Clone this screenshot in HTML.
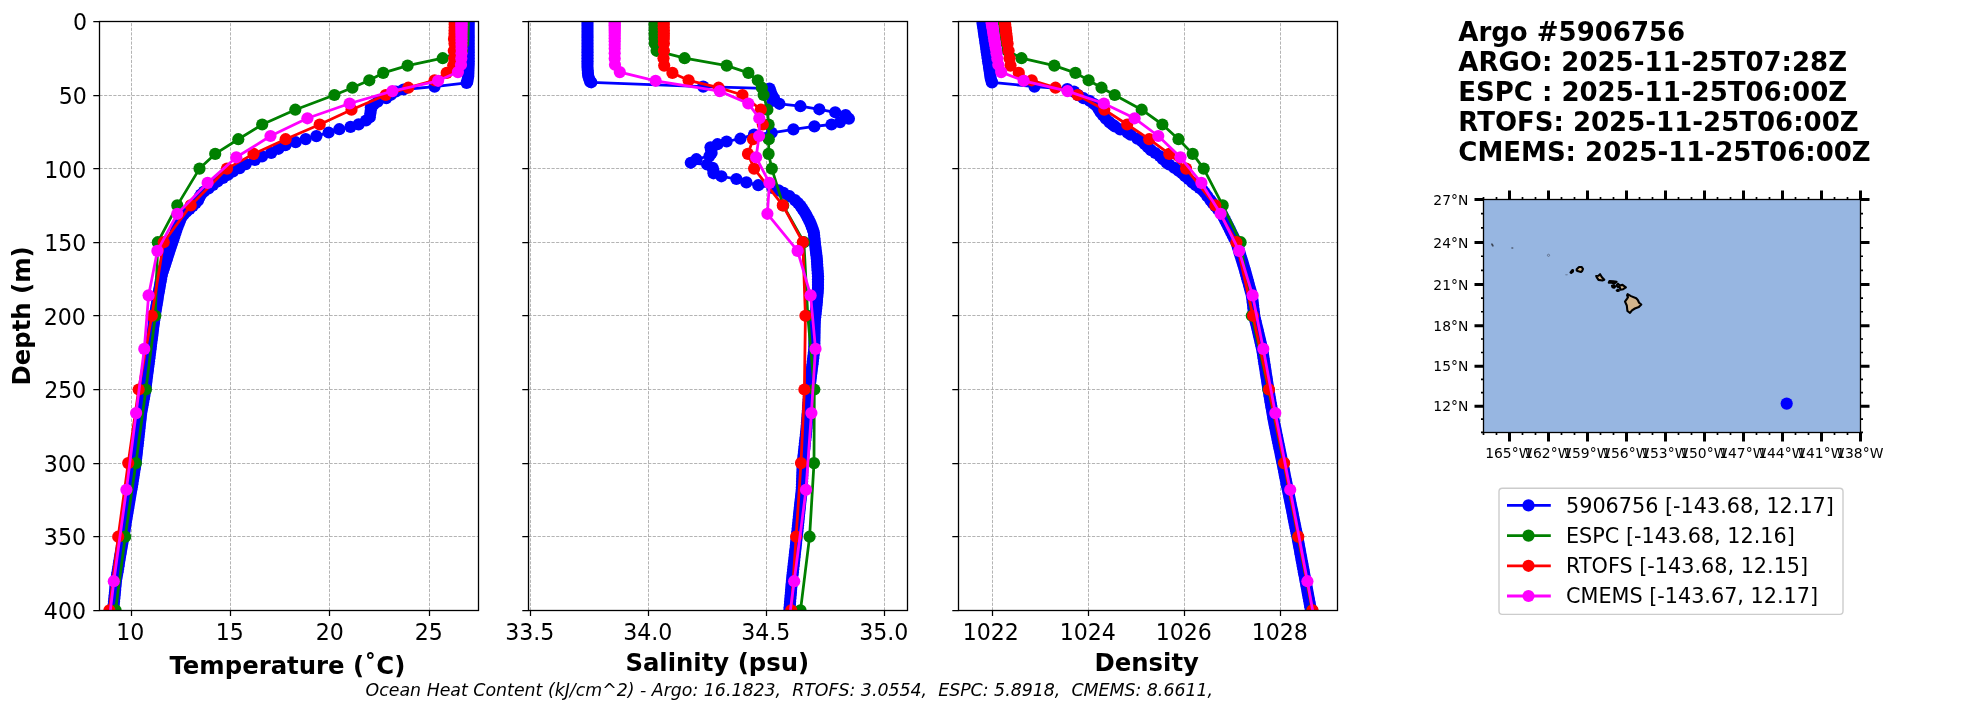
<!DOCTYPE html>
<html lang="en"><head><meta charset="utf-8"><title>Argo #5906756 profile comparison</title>
<style>html,body{margin:0;padding:0;background:#fff;}svg{display:block;will-change:transform;}text{font-family:"DejaVu Sans","Liberation Sans",sans-serif;fill:#000;}.tk{font-size:22.1px;}.ax{font-size:24.35px;font-weight:bold;}.tt{font-size:26.0px;font-weight:bold;}.mp{font-size:13.89px;}.lg{font-size:20.75px;}</style></head><body>
<svg width="1967" height="712" viewBox="0 0 1967 712">
<rect width="1967" height="712" fill="#fff"/>
<defs>
<clipPath id="c0"><rect x="99.5" y="21.5" width="379.0" height="589.0"/></clipPath>
<clipPath id="c1"><rect x="528.5" y="21.5" width="379.0" height="589.0"/></clipPath>
<clipPath id="c2"><rect x="958.5" y="21.5" width="379.0" height="589.0"/></clipPath>
</defs>
<path d="M131.5 610.5V21.5M230.5 610.5V21.5M329.5 610.5V21.5M429.5 610.5V21.5M99.5 95.5H478.5M99.5 168.5H478.5M99.5 242.5H478.5M99.5 315.5H478.5M99.5 389.5H478.5M99.5 463.5H478.5M99.5 536.5H478.5" stroke="#a6a6a6" stroke-width="0.85" stroke-dasharray="3.2 1.4" fill="none"/>
<g clip-path="url(#c0)">
<path d="M468.7 22.9L468.7 25.8L468.7 28.8L468.7 31.7L468.7 34.7L468.7 37.6L468.7 40.5L468.7 43.5L468.7 46.4L468.7 49.4L468.7 52.3L468.7 55.3L468.7 58.2L468.7 61.2L468.7 64.1L468.6 67.0L468.5 70.0L468.4 72.9L468.3 75.9L467.8 78.8L467.3 81.8L466.6 82.9L434.6 86.6L403.5 89.5L395.9 91.5L391.0 94.8L386.3 98.1L377.6 101.7L373.5 104.8L370.8 107.6L370.8 110.2L370.3 113.5L369.8 117.3L366.0 120.5L358.6 124.4L350.5 126.9L339.3 129.2L328.6 132.5L316.4 136.1L305.7 139.1L295.6 142.2L285.4 145.2L278.5 148.8L271.2 152.9L262.0 156.4L254.9 160.0L245.8 164.1L239.7 168.1L233.0 171.5L228.0 174.8L223.0 178.0L217.5 181.5L213.0 185.0L208.5 188.5L204.0 191.5L201.0 194.5L199.3 197.5L198.0 200.5L195.8 203.0L192.8 205.9L189.6 208.9L186.4 211.8L183.5 214.7L181.2 217.7L180.0 220.6L178.8 223.5L177.6 226.4L176.5 229.4L175.6 232.3L174.6 235.2L173.7 238.2L172.8 241.1L171.8 244.0L170.8 247.0L169.8 249.9L168.8 252.8L167.9 255.7L167.0 258.7L166.0 261.6L165.1 264.5L164.1 267.5L163.1 270.4L162.1 273.3L161.5 276.3L161.0 279.2L160.5 282.1L160.0 285.0L159.5 288.0L159.0 290.9L158.4 293.8L157.9 296.8L157.5 299.7L157.0 302.6L156.5 305.6L156.0 308.5L155.5 311.4L155.0 314.3L154.6 317.3L154.2 320.2L153.9 323.1L153.5 326.1L153.1 329.0L152.7 331.9L152.4 334.9L152.0 337.8L151.6 340.7L151.2 343.6L150.9 346.6L150.5 349.5L150.1 352.4L149.7 355.4L149.4 358.3L149.0 361.2L148.6 364.2L148.2 367.1L147.9 370.0L147.5 372.9L147.1 375.9L146.7 378.8L146.4 381.7L146.0 384.7L145.6 387.6L145.2 390.5L144.7 393.5L144.2 396.4L143.7 399.3L143.1 402.2L142.6 405.2L142.1 408.1L141.6 411.0L141.1 414.0L140.8 416.9L140.5 419.8L140.1 422.8L139.8 425.7L139.5 428.6L139.2 431.5L138.8 434.5L138.5 437.4L138.2 440.3L137.9 443.3L137.5 446.2L137.2 449.1L136.9 452.1L136.6 455.0L136.2 457.9L135.9 460.8L135.6 463.8L135.1 466.7L134.6 469.6L134.1 472.6L133.7 475.5L133.2 478.4L132.7 481.4L132.3 484.3L131.8 487.2L131.3 490.1L130.8 493.1L130.3 496.0L129.8 498.9L129.3 501.9L128.8 504.8L128.3 507.7L127.8 510.7L127.3 513.6L126.8 516.5L126.3 519.4L125.8 522.4L125.3 525.3L124.9 528.2L124.4 531.2L123.9 534.1L123.4 537.0L122.9 540.0L122.4 542.9L121.9 545.8L121.4 548.7L120.9 551.7L120.4 554.6L119.9 557.5L119.4 560.5L118.9 563.4L118.5 566.3L118.0 569.2L117.5 572.2L117.0 575.1L116.5 578.0L116.0 581.0L115.7 583.9L115.4 586.8L115.2 589.8L114.9 592.7L114.6 595.6L114.3 598.5L114.0 601.5L113.7 604.4L113.5 607.3L113.2 610.3L112.8 613.2L112.5 616.1L112.2 619.1L111.8 622.0L111.5 624.9L111.2 627.8L110.8 630.8" fill="none" stroke="#0000ff" stroke-width="2.78" stroke-linejoin="round"/>
<g fill="#0000ff"><circle cx="468.7" cy="22.9" r="6.1"/><circle cx="468.7" cy="25.8" r="6.1"/><circle cx="468.7" cy="28.8" r="6.1"/><circle cx="468.7" cy="31.7" r="6.1"/><circle cx="468.7" cy="34.7" r="6.1"/><circle cx="468.7" cy="37.6" r="6.1"/><circle cx="468.7" cy="40.5" r="6.1"/><circle cx="468.7" cy="43.5" r="6.1"/><circle cx="468.7" cy="46.4" r="6.1"/><circle cx="468.7" cy="49.4" r="6.1"/><circle cx="468.7" cy="52.3" r="6.1"/><circle cx="468.7" cy="55.3" r="6.1"/><circle cx="468.7" cy="58.2" r="6.1"/><circle cx="468.7" cy="61.2" r="6.1"/><circle cx="468.7" cy="64.1" r="6.1"/><circle cx="468.6" cy="67.0" r="6.1"/><circle cx="468.5" cy="70.0" r="6.1"/><circle cx="468.4" cy="72.9" r="6.1"/><circle cx="468.3" cy="75.9" r="6.1"/><circle cx="467.8" cy="78.8" r="6.1"/><circle cx="467.3" cy="81.8" r="6.1"/><circle cx="466.6" cy="82.9" r="6.1"/><circle cx="434.6" cy="86.6" r="6.1"/><circle cx="403.5" cy="89.5" r="6.1"/><circle cx="395.9" cy="91.5" r="6.1"/><circle cx="391.0" cy="94.8" r="6.1"/><circle cx="386.3" cy="98.1" r="6.1"/><circle cx="377.6" cy="101.7" r="6.1"/><circle cx="373.5" cy="104.8" r="6.1"/><circle cx="370.8" cy="107.6" r="6.1"/><circle cx="370.8" cy="110.2" r="6.1"/><circle cx="370.3" cy="113.5" r="6.1"/><circle cx="369.8" cy="117.3" r="6.1"/><circle cx="366.0" cy="120.5" r="6.1"/><circle cx="358.6" cy="124.4" r="6.1"/><circle cx="350.5" cy="126.9" r="6.1"/><circle cx="339.3" cy="129.2" r="6.1"/><circle cx="328.6" cy="132.5" r="6.1"/><circle cx="316.4" cy="136.1" r="6.1"/><circle cx="305.7" cy="139.1" r="6.1"/><circle cx="295.6" cy="142.2" r="6.1"/><circle cx="285.4" cy="145.2" r="6.1"/><circle cx="278.5" cy="148.8" r="6.1"/><circle cx="271.2" cy="152.9" r="6.1"/><circle cx="262.0" cy="156.4" r="6.1"/><circle cx="254.9" cy="160.0" r="6.1"/><circle cx="245.8" cy="164.1" r="6.1"/><circle cx="239.7" cy="168.1" r="6.1"/><circle cx="233.0" cy="171.5" r="6.1"/><circle cx="228.0" cy="174.8" r="6.1"/><circle cx="223.0" cy="178.0" r="6.1"/><circle cx="217.5" cy="181.5" r="6.1"/><circle cx="213.0" cy="185.0" r="6.1"/><circle cx="208.5" cy="188.5" r="6.1"/><circle cx="204.0" cy="191.5" r="6.1"/><circle cx="201.0" cy="194.5" r="6.1"/><circle cx="199.3" cy="197.5" r="6.1"/><circle cx="198.0" cy="200.5" r="6.1"/><circle cx="195.8" cy="203.0" r="6.1"/><circle cx="192.8" cy="205.9" r="6.1"/><circle cx="189.6" cy="208.9" r="6.1"/><circle cx="186.4" cy="211.8" r="6.1"/><circle cx="183.5" cy="214.7" r="6.1"/><circle cx="181.2" cy="217.7" r="6.1"/><circle cx="180.0" cy="220.6" r="6.1"/><circle cx="178.8" cy="223.5" r="6.1"/><circle cx="177.6" cy="226.4" r="6.1"/><circle cx="176.5" cy="229.4" r="6.1"/><circle cx="175.6" cy="232.3" r="6.1"/><circle cx="174.6" cy="235.2" r="6.1"/><circle cx="173.7" cy="238.2" r="6.1"/><circle cx="172.8" cy="241.1" r="6.1"/><circle cx="171.8" cy="244.0" r="6.1"/><circle cx="170.8" cy="247.0" r="6.1"/><circle cx="169.8" cy="249.9" r="6.1"/><circle cx="168.8" cy="252.8" r="6.1"/><circle cx="167.9" cy="255.7" r="6.1"/><circle cx="167.0" cy="258.7" r="6.1"/><circle cx="166.0" cy="261.6" r="6.1"/><circle cx="165.1" cy="264.5" r="6.1"/><circle cx="164.1" cy="267.5" r="6.1"/><circle cx="163.1" cy="270.4" r="6.1"/><circle cx="162.1" cy="273.3" r="6.1"/><circle cx="161.5" cy="276.3" r="6.1"/><circle cx="161.0" cy="279.2" r="6.1"/><circle cx="160.5" cy="282.1" r="6.1"/><circle cx="160.0" cy="285.0" r="6.1"/><circle cx="159.5" cy="288.0" r="6.1"/><circle cx="159.0" cy="290.9" r="6.1"/><circle cx="158.4" cy="293.8" r="6.1"/><circle cx="157.9" cy="296.8" r="6.1"/><circle cx="157.5" cy="299.7" r="6.1"/><circle cx="157.0" cy="302.6" r="6.1"/><circle cx="156.5" cy="305.6" r="6.1"/><circle cx="156.0" cy="308.5" r="6.1"/><circle cx="155.5" cy="311.4" r="6.1"/><circle cx="155.0" cy="314.3" r="6.1"/><circle cx="154.6" cy="317.3" r="6.1"/><circle cx="154.2" cy="320.2" r="6.1"/><circle cx="153.9" cy="323.1" r="6.1"/><circle cx="153.5" cy="326.1" r="6.1"/><circle cx="153.1" cy="329.0" r="6.1"/><circle cx="152.7" cy="331.9" r="6.1"/><circle cx="152.4" cy="334.9" r="6.1"/><circle cx="152.0" cy="337.8" r="6.1"/><circle cx="151.6" cy="340.7" r="6.1"/><circle cx="151.2" cy="343.6" r="6.1"/><circle cx="150.9" cy="346.6" r="6.1"/><circle cx="150.5" cy="349.5" r="6.1"/><circle cx="150.1" cy="352.4" r="6.1"/><circle cx="149.7" cy="355.4" r="6.1"/><circle cx="149.4" cy="358.3" r="6.1"/><circle cx="149.0" cy="361.2" r="6.1"/><circle cx="148.6" cy="364.2" r="6.1"/><circle cx="148.2" cy="367.1" r="6.1"/><circle cx="147.9" cy="370.0" r="6.1"/><circle cx="147.5" cy="372.9" r="6.1"/><circle cx="147.1" cy="375.9" r="6.1"/><circle cx="146.7" cy="378.8" r="6.1"/><circle cx="146.4" cy="381.7" r="6.1"/><circle cx="146.0" cy="384.7" r="6.1"/><circle cx="145.6" cy="387.6" r="6.1"/><circle cx="145.2" cy="390.5" r="6.1"/><circle cx="144.7" cy="393.5" r="6.1"/><circle cx="144.2" cy="396.4" r="6.1"/><circle cx="143.7" cy="399.3" r="6.1"/><circle cx="143.1" cy="402.2" r="6.1"/><circle cx="142.6" cy="405.2" r="6.1"/><circle cx="142.1" cy="408.1" r="6.1"/><circle cx="141.6" cy="411.0" r="6.1"/><circle cx="141.1" cy="414.0" r="6.1"/><circle cx="140.8" cy="416.9" r="6.1"/><circle cx="140.5" cy="419.8" r="6.1"/><circle cx="140.1" cy="422.8" r="6.1"/><circle cx="139.8" cy="425.7" r="6.1"/><circle cx="139.5" cy="428.6" r="6.1"/><circle cx="139.2" cy="431.5" r="6.1"/><circle cx="138.8" cy="434.5" r="6.1"/><circle cx="138.5" cy="437.4" r="6.1"/><circle cx="138.2" cy="440.3" r="6.1"/><circle cx="137.9" cy="443.3" r="6.1"/><circle cx="137.5" cy="446.2" r="6.1"/><circle cx="137.2" cy="449.1" r="6.1"/><circle cx="136.9" cy="452.1" r="6.1"/><circle cx="136.6" cy="455.0" r="6.1"/><circle cx="136.2" cy="457.9" r="6.1"/><circle cx="135.9" cy="460.8" r="6.1"/><circle cx="135.6" cy="463.8" r="6.1"/><circle cx="135.1" cy="466.7" r="6.1"/><circle cx="134.6" cy="469.6" r="6.1"/><circle cx="134.1" cy="472.6" r="6.1"/><circle cx="133.7" cy="475.5" r="6.1"/><circle cx="133.2" cy="478.4" r="6.1"/><circle cx="132.7" cy="481.4" r="6.1"/><circle cx="132.3" cy="484.3" r="6.1"/><circle cx="131.8" cy="487.2" r="6.1"/><circle cx="131.3" cy="490.1" r="6.1"/><circle cx="130.8" cy="493.1" r="6.1"/><circle cx="130.3" cy="496.0" r="6.1"/><circle cx="129.8" cy="498.9" r="6.1"/><circle cx="129.3" cy="501.9" r="6.1"/><circle cx="128.8" cy="504.8" r="6.1"/><circle cx="128.3" cy="507.7" r="6.1"/><circle cx="127.8" cy="510.7" r="6.1"/><circle cx="127.3" cy="513.6" r="6.1"/><circle cx="126.8" cy="516.5" r="6.1"/><circle cx="126.3" cy="519.4" r="6.1"/><circle cx="125.8" cy="522.4" r="6.1"/><circle cx="125.3" cy="525.3" r="6.1"/><circle cx="124.9" cy="528.2" r="6.1"/><circle cx="124.4" cy="531.2" r="6.1"/><circle cx="123.9" cy="534.1" r="6.1"/><circle cx="123.4" cy="537.0" r="6.1"/><circle cx="122.9" cy="540.0" r="6.1"/><circle cx="122.4" cy="542.9" r="6.1"/><circle cx="121.9" cy="545.8" r="6.1"/><circle cx="121.4" cy="548.7" r="6.1"/><circle cx="120.9" cy="551.7" r="6.1"/><circle cx="120.4" cy="554.6" r="6.1"/><circle cx="119.9" cy="557.5" r="6.1"/><circle cx="119.4" cy="560.5" r="6.1"/><circle cx="118.9" cy="563.4" r="6.1"/><circle cx="118.5" cy="566.3" r="6.1"/><circle cx="118.0" cy="569.2" r="6.1"/><circle cx="117.5" cy="572.2" r="6.1"/><circle cx="117.0" cy="575.1" r="6.1"/><circle cx="116.5" cy="578.0" r="6.1"/><circle cx="116.0" cy="581.0" r="6.1"/><circle cx="115.7" cy="583.9" r="6.1"/><circle cx="115.4" cy="586.8" r="6.1"/><circle cx="115.2" cy="589.8" r="6.1"/><circle cx="114.9" cy="592.7" r="6.1"/><circle cx="114.6" cy="595.6" r="6.1"/><circle cx="114.3" cy="598.5" r="6.1"/><circle cx="114.0" cy="601.5" r="6.1"/><circle cx="113.7" cy="604.4" r="6.1"/><circle cx="113.5" cy="607.3" r="6.1"/><circle cx="113.2" cy="610.3" r="6.1"/><circle cx="112.8" cy="613.2" r="6.1"/><circle cx="112.5" cy="616.1" r="6.1"/></g>
<path d="M463.6 21.4L463.6 24.3L463.5 27.3L463.5 30.2L463.5 33.2L463.4 36.1L463.4 39.1L463.0 43.5L462.0 50.8L442.7 58.2L407.6 65.6L383.2 72.9L369.3 80.3L352.4 87.7L334.4 95.0L295.3 109.7L262.2 124.5L238.3 139.2L215.2 153.9L199.5 168.6L177.3 205.4L157.8 242.2L155.3 315.8L145.9 389.5L135.9 463.1L125.2 536.7L115.6 610.3" fill="none" stroke="#008000" stroke-width="2.78" stroke-linejoin="round"/>
<g fill="#008000"><circle cx="463.6" cy="21.4" r="6.1"/><circle cx="463.6" cy="24.3" r="6.1"/><circle cx="463.5" cy="27.3" r="6.1"/><circle cx="463.5" cy="30.2" r="6.1"/><circle cx="463.5" cy="33.2" r="6.1"/><circle cx="463.4" cy="36.1" r="6.1"/><circle cx="463.4" cy="39.1" r="6.1"/><circle cx="463.0" cy="43.5" r="6.1"/><circle cx="462.0" cy="50.8" r="6.1"/><circle cx="442.7" cy="58.2" r="6.1"/><circle cx="407.6" cy="65.6" r="6.1"/><circle cx="383.2" cy="72.9" r="6.1"/><circle cx="369.3" cy="80.3" r="6.1"/><circle cx="352.4" cy="87.7" r="6.1"/><circle cx="334.4" cy="95.0" r="6.1"/><circle cx="295.3" cy="109.7" r="6.1"/><circle cx="262.2" cy="124.5" r="6.1"/><circle cx="238.3" cy="139.2" r="6.1"/><circle cx="215.2" cy="153.9" r="6.1"/><circle cx="199.5" cy="168.6" r="6.1"/><circle cx="177.3" cy="205.4" r="6.1"/><circle cx="157.8" cy="242.2" r="6.1"/><circle cx="155.3" cy="315.8" r="6.1"/><circle cx="145.9" cy="389.5" r="6.1"/><circle cx="135.9" cy="463.1" r="6.1"/><circle cx="125.2" cy="536.7" r="6.1"/><circle cx="115.6" cy="610.3" r="6.1"/></g>
<path d="M454.7 21.4L454.7 24.3L454.7 27.3L454.6 30.2L454.6 33.2L454.6 36.1L454.0 39.1L454.5 43.5L453.8 50.8L454.2 58.2L453.2 65.6L446.7 72.9L434.6 80.3L408.3 87.7L385.7 95.0L351.5 109.7L319.7 124.5L285.6 139.2L253.5 153.9L227.0 168.6L190.7 205.4L163.7 242.2L151.8 315.8L138.7 389.5L128.2 463.1L118.2 536.7L109.4 610.3" fill="none" stroke="#ff0000" stroke-width="2.78" stroke-linejoin="round"/>
<g fill="#ff0000"><circle cx="454.7" cy="21.4" r="6.1"/><circle cx="454.7" cy="24.3" r="6.1"/><circle cx="454.7" cy="27.3" r="6.1"/><circle cx="454.6" cy="30.2" r="6.1"/><circle cx="454.6" cy="33.2" r="6.1"/><circle cx="454.6" cy="36.1" r="6.1"/><circle cx="454.0" cy="39.1" r="6.1"/><circle cx="454.5" cy="43.5" r="6.1"/><circle cx="453.8" cy="50.8" r="6.1"/><circle cx="454.2" cy="58.2" r="6.1"/><circle cx="453.2" cy="65.6" r="6.1"/><circle cx="446.7" cy="72.9" r="6.1"/><circle cx="434.6" cy="80.3" r="6.1"/><circle cx="408.3" cy="87.7" r="6.1"/><circle cx="385.7" cy="95.0" r="6.1"/><circle cx="351.5" cy="109.7" r="6.1"/><circle cx="319.7" cy="124.5" r="6.1"/><circle cx="285.6" cy="139.2" r="6.1"/><circle cx="253.5" cy="153.9" r="6.1"/><circle cx="227.0" cy="168.6" r="6.1"/><circle cx="190.7" cy="205.4" r="6.1"/><circle cx="163.7" cy="242.2" r="6.1"/><circle cx="151.8" cy="315.8" r="6.1"/><circle cx="138.7" cy="389.5" r="6.1"/><circle cx="128.2" cy="463.1" r="6.1"/><circle cx="118.2" cy="536.7" r="6.1"/><circle cx="109.4" cy="610.3" r="6.1"/></g>
<path d="M461.5 22.1L461.5 23.7L461.5 25.3L461.5 27.0L461.5 28.9L461.5 30.9L461.5 33.1L461.5 35.5L461.5 38.2L461.5 41.2L461.5 44.7L461.5 48.6L461.5 53.2L461.3 58.5L461.0 64.8L457.9 72.1L438.1 80.8L392.4 91.1L349.6 103.5L307.4 118.3L270.5 136.0L236.3 157.3L207.6 182.9L177.3 213.8L157.4 250.9L148.6 295.4L144.3 348.9L136.1 413.1L126.4 489.8L113.8 581.2L101.0 689.7" fill="none" stroke="#ff00ff" stroke-width="2.78" stroke-linejoin="round"/>
<g fill="#ff00ff"><circle cx="461.5" cy="22.1" r="6.1"/><circle cx="461.5" cy="23.7" r="6.1"/><circle cx="461.5" cy="25.3" r="6.1"/><circle cx="461.5" cy="27.0" r="6.1"/><circle cx="461.5" cy="28.9" r="6.1"/><circle cx="461.5" cy="30.9" r="6.1"/><circle cx="461.5" cy="33.1" r="6.1"/><circle cx="461.5" cy="35.5" r="6.1"/><circle cx="461.5" cy="38.2" r="6.1"/><circle cx="461.5" cy="41.2" r="6.1"/><circle cx="461.5" cy="44.7" r="6.1"/><circle cx="461.5" cy="48.6" r="6.1"/><circle cx="461.5" cy="53.2" r="6.1"/><circle cx="461.3" cy="58.5" r="6.1"/><circle cx="461.0" cy="64.8" r="6.1"/><circle cx="457.9" cy="72.1" r="6.1"/><circle cx="438.1" cy="80.8" r="6.1"/><circle cx="392.4" cy="91.1" r="6.1"/><circle cx="349.6" cy="103.5" r="6.1"/><circle cx="307.4" cy="118.3" r="6.1"/><circle cx="270.5" cy="136.0" r="6.1"/><circle cx="236.3" cy="157.3" r="6.1"/><circle cx="207.6" cy="182.9" r="6.1"/><circle cx="177.3" cy="213.8" r="6.1"/><circle cx="157.4" cy="250.9" r="6.1"/><circle cx="148.6" cy="295.4" r="6.1"/><circle cx="144.3" cy="348.9" r="6.1"/><circle cx="136.1" cy="413.1" r="6.1"/><circle cx="126.4" cy="489.8" r="6.1"/><circle cx="113.8" cy="581.2" r="6.1"/></g>
</g>
<rect x="99.5" y="21.5" width="379.0" height="589.0" fill="none" stroke="#000" stroke-width="1.3"/>
<path d="M131.5 610.5v5.4M230.5 610.5v5.4M329.5 610.5v5.4M429.5 610.5v5.4M99.5 21.5h-6.2M99.5 95.5h-6.2M99.5 168.5h-6.2M99.5 242.5h-6.2M99.5 315.5h-6.2M99.5 389.5h-6.2M99.5 463.5h-6.2M99.5 536.5h-6.2M99.5 610.5h-6.2" stroke="#000" stroke-width="1.25"/>
<text class="tk" x="130.3" y="639.6" text-anchor="middle">10</text>
<text class="tk" x="229.8" y="639.6" text-anchor="middle">15</text>
<text class="tk" x="329.8" y="639.6" text-anchor="middle">20</text>
<text class="tk" x="428.8" y="639.6" text-anchor="middle">25</text>
<path d="M530.5 610.5V21.5M648.5 610.5V21.5M766.5 610.5V21.5M884.5 610.5V21.5M528.5 95.5H907.5M528.5 168.5H907.5M528.5 242.5H907.5M528.5 315.5H907.5M528.5 389.5H907.5M528.5 463.5H907.5M528.5 536.5H907.5" stroke="#a6a6a6" stroke-width="0.85" stroke-dasharray="3.2 1.4" fill="none"/>
<g clip-path="url(#c1)">
<path d="M587.5 22.9L587.5 25.8L587.5 28.8L587.5 31.7L587.5 34.7L587.5 37.6L587.5 40.5L587.5 43.5L587.5 46.4L587.5 49.4L587.5 52.3L587.5 55.3L587.5 58.2L587.5 61.2L587.5 64.1L587.5 67.0L587.7 70.0L587.9 72.9L588.2 75.9L589.1 78.8L590.1 81.8L591.3 82.3L703.2 86.6L769.5 88.5L770.6 91.6L772.0 95.1L774.0 98.2L772.5 100.8L779.4 103.8L800.4 106.2L819.3 109.3L835.2 112.3L845.6 115.1L848.9 118.7L840.1 122.1L831.5 124.5L814.4 126.4L793.4 129.4L771.7 132.8L754.0 134.6L740.4 138.7L726.6 141.5L717.5 144.2L710.5 147.3L711.2 150.2L711.6 153.0L709.5 156.0L696.4 159.2L690.8 162.8L707.1 164.5L712.6 167.8L713.4 170.6L713.5 173.3L721.4 176.3L736.4 179.0L746.4 182.4L758.3 185.2L772.4 187.9L778.5 190.4L783.4 192.8L789.5 196.2L794.9 200.1L798.0 203.0L800.5 205.9L802.5 208.9L804.4 211.8L806.2 214.7L807.7 217.7L809.2 220.6L810.6 223.5L811.7 226.4L812.8 229.4L813.8 232.3L814.1 235.2L814.4 238.2L814.7 241.1L815.0 244.0L815.4 247.0L815.7 249.9L816.1 252.8L816.5 255.7L816.8 258.7L817.0 261.6L817.2 264.5L817.4 267.5L817.6 270.4L817.8 273.3L818.0 276.3L818.0 279.2L818.0 282.1L818.0 285.0L818.0 288.0L817.8 290.9L817.6 293.8L817.3 296.8L817.0 299.7L816.8 302.6L816.5 305.6L816.2 308.5L815.8 311.4L815.5 314.3L815.2 317.3L814.8 320.2L814.8 323.1L814.7 326.1L814.6 329.0L814.6 331.9L814.5 334.9L814.5 337.8L814.4 340.7L814.4 343.6L814.3 346.6L814.2 349.5L813.9 352.4L813.5 355.4L813.2 358.3L812.8 361.2L812.5 364.2L812.1 367.1L811.8 370.0L811.4 372.9L811.0 375.9L810.7 378.8L810.3 381.7L810.0 384.7L809.6 387.6L809.3 390.5L809.1 393.5L808.9 396.4L808.7 399.3L808.5 402.2L808.2 405.2L808.0 408.1L807.8 411.0L807.6 414.0L807.4 416.9L807.2 419.8L806.9 422.8L806.7 425.7L806.5 428.6L806.2 431.5L805.9 434.5L805.6 437.4L805.2 440.3L804.9 443.3L804.6 446.2L804.3 449.1L803.9 452.1L803.6 455.0L803.3 457.9L802.9 460.8L802.7 463.8L802.6 466.7L802.5 469.6L802.4 472.6L802.3 475.5L802.2 478.4L802.1 481.4L802.0 484.3L801.9 487.2L801.7 490.1L801.4 493.1L801.1 496.0L800.8 498.9L800.4 501.9L800.1 504.8L799.8 507.7L799.5 510.7L799.2 513.6L798.9 516.5L798.6 519.4L798.3 522.4L798.0 525.3L797.7 528.2L797.4 531.2L797.1 534.1L796.7 537.0L796.4 540.0L796.1 542.9L795.8 545.8L795.5 548.7L795.1 551.7L794.8 554.6L794.5 557.5L794.2 560.5L793.8 563.4L793.5 566.3L793.2 569.2L792.9 572.2L792.5 575.1L792.2 578.0L791.9 581.0L791.6 583.9L791.4 586.8L791.1 589.8L790.9 592.7L790.6 595.6L790.4 598.5L790.1 601.5L789.9 604.4L789.6 607.3L789.4 610.3L789.1 613.2L788.9 616.1L788.6 619.1L788.4 622.0L788.1 624.9L787.9 627.8L787.6 630.8" fill="none" stroke="#0000ff" stroke-width="2.78" stroke-linejoin="round"/>
<g fill="#0000ff"><circle cx="587.5" cy="22.9" r="6.1"/><circle cx="587.5" cy="25.8" r="6.1"/><circle cx="587.5" cy="28.8" r="6.1"/><circle cx="587.5" cy="31.7" r="6.1"/><circle cx="587.5" cy="34.7" r="6.1"/><circle cx="587.5" cy="37.6" r="6.1"/><circle cx="587.5" cy="40.5" r="6.1"/><circle cx="587.5" cy="43.5" r="6.1"/><circle cx="587.5" cy="46.4" r="6.1"/><circle cx="587.5" cy="49.4" r="6.1"/><circle cx="587.5" cy="52.3" r="6.1"/><circle cx="587.5" cy="55.3" r="6.1"/><circle cx="587.5" cy="58.2" r="6.1"/><circle cx="587.5" cy="61.2" r="6.1"/><circle cx="587.5" cy="64.1" r="6.1"/><circle cx="587.5" cy="67.0" r="6.1"/><circle cx="587.7" cy="70.0" r="6.1"/><circle cx="587.9" cy="72.9" r="6.1"/><circle cx="588.2" cy="75.9" r="6.1"/><circle cx="589.1" cy="78.8" r="6.1"/><circle cx="590.1" cy="81.8" r="6.1"/><circle cx="591.3" cy="82.3" r="6.1"/><circle cx="703.2" cy="86.6" r="6.1"/><circle cx="769.5" cy="88.5" r="6.1"/><circle cx="770.6" cy="91.6" r="6.1"/><circle cx="772.0" cy="95.1" r="6.1"/><circle cx="774.0" cy="98.2" r="6.1"/><circle cx="772.5" cy="100.8" r="6.1"/><circle cx="779.4" cy="103.8" r="6.1"/><circle cx="800.4" cy="106.2" r="6.1"/><circle cx="819.3" cy="109.3" r="6.1"/><circle cx="835.2" cy="112.3" r="6.1"/><circle cx="845.6" cy="115.1" r="6.1"/><circle cx="848.9" cy="118.7" r="6.1"/><circle cx="840.1" cy="122.1" r="6.1"/><circle cx="831.5" cy="124.5" r="6.1"/><circle cx="814.4" cy="126.4" r="6.1"/><circle cx="793.4" cy="129.4" r="6.1"/><circle cx="771.7" cy="132.8" r="6.1"/><circle cx="754.0" cy="134.6" r="6.1"/><circle cx="740.4" cy="138.7" r="6.1"/><circle cx="726.6" cy="141.5" r="6.1"/><circle cx="717.5" cy="144.2" r="6.1"/><circle cx="710.5" cy="147.3" r="6.1"/><circle cx="711.2" cy="150.2" r="6.1"/><circle cx="711.6" cy="153.0" r="6.1"/><circle cx="709.5" cy="156.0" r="6.1"/><circle cx="696.4" cy="159.2" r="6.1"/><circle cx="690.8" cy="162.8" r="6.1"/><circle cx="707.1" cy="164.5" r="6.1"/><circle cx="712.6" cy="167.8" r="6.1"/><circle cx="713.4" cy="170.6" r="6.1"/><circle cx="713.5" cy="173.3" r="6.1"/><circle cx="721.4" cy="176.3" r="6.1"/><circle cx="736.4" cy="179.0" r="6.1"/><circle cx="746.4" cy="182.4" r="6.1"/><circle cx="758.3" cy="185.2" r="6.1"/><circle cx="772.4" cy="187.9" r="6.1"/><circle cx="778.5" cy="190.4" r="6.1"/><circle cx="783.4" cy="192.8" r="6.1"/><circle cx="789.5" cy="196.2" r="6.1"/><circle cx="794.9" cy="200.1" r="6.1"/><circle cx="798.0" cy="203.0" r="6.1"/><circle cx="800.5" cy="205.9" r="6.1"/><circle cx="802.5" cy="208.9" r="6.1"/><circle cx="804.4" cy="211.8" r="6.1"/><circle cx="806.2" cy="214.7" r="6.1"/><circle cx="807.7" cy="217.7" r="6.1"/><circle cx="809.2" cy="220.6" r="6.1"/><circle cx="810.6" cy="223.5" r="6.1"/><circle cx="811.7" cy="226.4" r="6.1"/><circle cx="812.8" cy="229.4" r="6.1"/><circle cx="813.8" cy="232.3" r="6.1"/><circle cx="814.1" cy="235.2" r="6.1"/><circle cx="814.4" cy="238.2" r="6.1"/><circle cx="814.7" cy="241.1" r="6.1"/><circle cx="815.0" cy="244.0" r="6.1"/><circle cx="815.4" cy="247.0" r="6.1"/><circle cx="815.7" cy="249.9" r="6.1"/><circle cx="816.1" cy="252.8" r="6.1"/><circle cx="816.5" cy="255.7" r="6.1"/><circle cx="816.8" cy="258.7" r="6.1"/><circle cx="817.0" cy="261.6" r="6.1"/><circle cx="817.2" cy="264.5" r="6.1"/><circle cx="817.4" cy="267.5" r="6.1"/><circle cx="817.6" cy="270.4" r="6.1"/><circle cx="817.8" cy="273.3" r="6.1"/><circle cx="818.0" cy="276.3" r="6.1"/><circle cx="818.0" cy="279.2" r="6.1"/><circle cx="818.0" cy="282.1" r="6.1"/><circle cx="818.0" cy="285.0" r="6.1"/><circle cx="818.0" cy="288.0" r="6.1"/><circle cx="817.8" cy="290.9" r="6.1"/><circle cx="817.6" cy="293.8" r="6.1"/><circle cx="817.3" cy="296.8" r="6.1"/><circle cx="817.0" cy="299.7" r="6.1"/><circle cx="816.8" cy="302.6" r="6.1"/><circle cx="816.5" cy="305.6" r="6.1"/><circle cx="816.2" cy="308.5" r="6.1"/><circle cx="815.8" cy="311.4" r="6.1"/><circle cx="815.5" cy="314.3" r="6.1"/><circle cx="815.2" cy="317.3" r="6.1"/><circle cx="814.8" cy="320.2" r="6.1"/><circle cx="814.8" cy="323.1" r="6.1"/><circle cx="814.7" cy="326.1" r="6.1"/><circle cx="814.6" cy="329.0" r="6.1"/><circle cx="814.6" cy="331.9" r="6.1"/><circle cx="814.5" cy="334.9" r="6.1"/><circle cx="814.5" cy="337.8" r="6.1"/><circle cx="814.4" cy="340.7" r="6.1"/><circle cx="814.4" cy="343.6" r="6.1"/><circle cx="814.3" cy="346.6" r="6.1"/><circle cx="814.2" cy="349.5" r="6.1"/><circle cx="813.9" cy="352.4" r="6.1"/><circle cx="813.5" cy="355.4" r="6.1"/><circle cx="813.2" cy="358.3" r="6.1"/><circle cx="812.8" cy="361.2" r="6.1"/><circle cx="812.5" cy="364.2" r="6.1"/><circle cx="812.1" cy="367.1" r="6.1"/><circle cx="811.8" cy="370.0" r="6.1"/><circle cx="811.4" cy="372.9" r="6.1"/><circle cx="811.0" cy="375.9" r="6.1"/><circle cx="810.7" cy="378.8" r="6.1"/><circle cx="810.3" cy="381.7" r="6.1"/><circle cx="810.0" cy="384.7" r="6.1"/><circle cx="809.6" cy="387.6" r="6.1"/><circle cx="809.3" cy="390.5" r="6.1"/><circle cx="809.1" cy="393.5" r="6.1"/><circle cx="808.9" cy="396.4" r="6.1"/><circle cx="808.7" cy="399.3" r="6.1"/><circle cx="808.5" cy="402.2" r="6.1"/><circle cx="808.2" cy="405.2" r="6.1"/><circle cx="808.0" cy="408.1" r="6.1"/><circle cx="807.8" cy="411.0" r="6.1"/><circle cx="807.6" cy="414.0" r="6.1"/><circle cx="807.4" cy="416.9" r="6.1"/><circle cx="807.2" cy="419.8" r="6.1"/><circle cx="806.9" cy="422.8" r="6.1"/><circle cx="806.7" cy="425.7" r="6.1"/><circle cx="806.5" cy="428.6" r="6.1"/><circle cx="806.2" cy="431.5" r="6.1"/><circle cx="805.9" cy="434.5" r="6.1"/><circle cx="805.6" cy="437.4" r="6.1"/><circle cx="805.2" cy="440.3" r="6.1"/><circle cx="804.9" cy="443.3" r="6.1"/><circle cx="804.6" cy="446.2" r="6.1"/><circle cx="804.3" cy="449.1" r="6.1"/><circle cx="803.9" cy="452.1" r="6.1"/><circle cx="803.6" cy="455.0" r="6.1"/><circle cx="803.3" cy="457.9" r="6.1"/><circle cx="802.9" cy="460.8" r="6.1"/><circle cx="802.7" cy="463.8" r="6.1"/><circle cx="802.6" cy="466.7" r="6.1"/><circle cx="802.5" cy="469.6" r="6.1"/><circle cx="802.4" cy="472.6" r="6.1"/><circle cx="802.3" cy="475.5" r="6.1"/><circle cx="802.2" cy="478.4" r="6.1"/><circle cx="802.1" cy="481.4" r="6.1"/><circle cx="802.0" cy="484.3" r="6.1"/><circle cx="801.9" cy="487.2" r="6.1"/><circle cx="801.7" cy="490.1" r="6.1"/><circle cx="801.4" cy="493.1" r="6.1"/><circle cx="801.1" cy="496.0" r="6.1"/><circle cx="800.8" cy="498.9" r="6.1"/><circle cx="800.4" cy="501.9" r="6.1"/><circle cx="800.1" cy="504.8" r="6.1"/><circle cx="799.8" cy="507.7" r="6.1"/><circle cx="799.5" cy="510.7" r="6.1"/><circle cx="799.2" cy="513.6" r="6.1"/><circle cx="798.9" cy="516.5" r="6.1"/><circle cx="798.6" cy="519.4" r="6.1"/><circle cx="798.3" cy="522.4" r="6.1"/><circle cx="798.0" cy="525.3" r="6.1"/><circle cx="797.7" cy="528.2" r="6.1"/><circle cx="797.4" cy="531.2" r="6.1"/><circle cx="797.1" cy="534.1" r="6.1"/><circle cx="796.7" cy="537.0" r="6.1"/><circle cx="796.4" cy="540.0" r="6.1"/><circle cx="796.1" cy="542.9" r="6.1"/><circle cx="795.8" cy="545.8" r="6.1"/><circle cx="795.5" cy="548.7" r="6.1"/><circle cx="795.1" cy="551.7" r="6.1"/><circle cx="794.8" cy="554.6" r="6.1"/><circle cx="794.5" cy="557.5" r="6.1"/><circle cx="794.2" cy="560.5" r="6.1"/><circle cx="793.8" cy="563.4" r="6.1"/><circle cx="793.5" cy="566.3" r="6.1"/><circle cx="793.2" cy="569.2" r="6.1"/><circle cx="792.9" cy="572.2" r="6.1"/><circle cx="792.5" cy="575.1" r="6.1"/><circle cx="792.2" cy="578.0" r="6.1"/><circle cx="791.9" cy="581.0" r="6.1"/><circle cx="791.6" cy="583.9" r="6.1"/><circle cx="791.4" cy="586.8" r="6.1"/><circle cx="791.1" cy="589.8" r="6.1"/><circle cx="790.9" cy="592.7" r="6.1"/><circle cx="790.6" cy="595.6" r="6.1"/><circle cx="790.4" cy="598.5" r="6.1"/><circle cx="790.1" cy="601.5" r="6.1"/><circle cx="789.9" cy="604.4" r="6.1"/><circle cx="789.6" cy="607.3" r="6.1"/><circle cx="789.4" cy="610.3" r="6.1"/><circle cx="789.1" cy="613.2" r="6.1"/><circle cx="788.9" cy="616.1" r="6.1"/></g>
<path d="M654.6 21.4L654.6 24.3L654.7 27.3L654.7 30.2L654.7 33.2L654.7 36.1L654.8 39.1L654.8 43.5L656.6 50.8L684.6 58.2L726.7 65.6L748.4 72.9L757.8 80.3L761.8 87.7L763.6 95.0L767.4 109.7L768.6 124.5L768.8 139.2L768.6 153.9L771.8 168.6L783.2 205.4L803.9 242.2L807.8 315.8L814.3 389.5L814.0 463.1L809.6 536.7L800.5 610.3" fill="none" stroke="#008000" stroke-width="2.78" stroke-linejoin="round"/>
<g fill="#008000"><circle cx="654.6" cy="21.4" r="6.1"/><circle cx="654.6" cy="24.3" r="6.1"/><circle cx="654.7" cy="27.3" r="6.1"/><circle cx="654.7" cy="30.2" r="6.1"/><circle cx="654.7" cy="33.2" r="6.1"/><circle cx="654.7" cy="36.1" r="6.1"/><circle cx="654.8" cy="39.1" r="6.1"/><circle cx="654.8" cy="43.5" r="6.1"/><circle cx="656.6" cy="50.8" r="6.1"/><circle cx="684.6" cy="58.2" r="6.1"/><circle cx="726.7" cy="65.6" r="6.1"/><circle cx="748.4" cy="72.9" r="6.1"/><circle cx="757.8" cy="80.3" r="6.1"/><circle cx="761.8" cy="87.7" r="6.1"/><circle cx="763.6" cy="95.0" r="6.1"/><circle cx="767.4" cy="109.7" r="6.1"/><circle cx="768.6" cy="124.5" r="6.1"/><circle cx="768.8" cy="139.2" r="6.1"/><circle cx="768.6" cy="153.9" r="6.1"/><circle cx="771.8" cy="168.6" r="6.1"/><circle cx="783.2" cy="205.4" r="6.1"/><circle cx="803.9" cy="242.2" r="6.1"/><circle cx="807.8" cy="315.8" r="6.1"/><circle cx="814.3" cy="389.5" r="6.1"/><circle cx="814.0" cy="463.1" r="6.1"/><circle cx="809.6" cy="536.7" r="6.1"/><circle cx="800.5" cy="610.3" r="6.1"/></g>
<path d="M663.7 21.4L663.7 24.3L663.7 27.3L663.8 30.2L663.8 33.2L663.8 36.1L663.8 39.1L663.9 43.5L663.9 50.8L663.5 58.2L664.2 65.6L672.4 72.9L688.6 80.3L718.6 87.7L742.5 95.0L760.8 109.7L762.8 124.5L753.0 139.2L748.0 153.9L754.1 168.6L782.8 205.4L802.8 242.2L805.4 315.8L804.4 389.5L801.0 463.1L796.1 536.7L791.2 610.3" fill="none" stroke="#ff0000" stroke-width="2.78" stroke-linejoin="round"/>
<g fill="#ff0000"><circle cx="663.7" cy="21.4" r="6.1"/><circle cx="663.7" cy="24.3" r="6.1"/><circle cx="663.7" cy="27.3" r="6.1"/><circle cx="663.8" cy="30.2" r="6.1"/><circle cx="663.8" cy="33.2" r="6.1"/><circle cx="663.8" cy="36.1" r="6.1"/><circle cx="663.8" cy="39.1" r="6.1"/><circle cx="663.9" cy="43.5" r="6.1"/><circle cx="663.9" cy="50.8" r="6.1"/><circle cx="663.5" cy="58.2" r="6.1"/><circle cx="664.2" cy="65.6" r="6.1"/><circle cx="672.4" cy="72.9" r="6.1"/><circle cx="688.6" cy="80.3" r="6.1"/><circle cx="718.6" cy="87.7" r="6.1"/><circle cx="742.5" cy="95.0" r="6.1"/><circle cx="760.8" cy="109.7" r="6.1"/><circle cx="762.8" cy="124.5" r="6.1"/><circle cx="753.0" cy="139.2" r="6.1"/><circle cx="748.0" cy="153.9" r="6.1"/><circle cx="754.1" cy="168.6" r="6.1"/><circle cx="782.8" cy="205.4" r="6.1"/><circle cx="802.8" cy="242.2" r="6.1"/><circle cx="805.4" cy="315.8" r="6.1"/><circle cx="804.4" cy="389.5" r="6.1"/><circle cx="801.0" cy="463.1" r="6.1"/><circle cx="796.1" cy="536.7" r="6.1"/><circle cx="791.2" cy="610.3" r="6.1"/></g>
<path d="M614.7 22.1L614.7 23.7L614.7 25.3L614.7 27.0L614.7 28.9L614.7 30.9L614.7 33.1L614.7 35.5L614.7 38.2L614.7 41.2L614.7 44.7L614.7 48.6L614.7 53.2L614.7 58.5L615.0 64.8L619.8 72.1L655.6 80.8L719.7 91.1L748.3 103.5L759.3 118.3L759.1 136.0L756.1 157.3L769.4 182.9L767.4 213.8L797.6 250.9L810.6 295.4L815.5 348.9L811.4 413.1L806.0 489.8L794.2 581.2L780.0 689.7" fill="none" stroke="#ff00ff" stroke-width="2.78" stroke-linejoin="round"/>
<g fill="#ff00ff"><circle cx="614.7" cy="22.1" r="6.1"/><circle cx="614.7" cy="23.7" r="6.1"/><circle cx="614.7" cy="25.3" r="6.1"/><circle cx="614.7" cy="27.0" r="6.1"/><circle cx="614.7" cy="28.9" r="6.1"/><circle cx="614.7" cy="30.9" r="6.1"/><circle cx="614.7" cy="33.1" r="6.1"/><circle cx="614.7" cy="35.5" r="6.1"/><circle cx="614.7" cy="38.2" r="6.1"/><circle cx="614.7" cy="41.2" r="6.1"/><circle cx="614.7" cy="44.7" r="6.1"/><circle cx="614.7" cy="48.6" r="6.1"/><circle cx="614.7" cy="53.2" r="6.1"/><circle cx="614.7" cy="58.5" r="6.1"/><circle cx="615.0" cy="64.8" r="6.1"/><circle cx="619.8" cy="72.1" r="6.1"/><circle cx="655.6" cy="80.8" r="6.1"/><circle cx="719.7" cy="91.1" r="6.1"/><circle cx="748.3" cy="103.5" r="6.1"/><circle cx="759.3" cy="118.3" r="6.1"/><circle cx="759.1" cy="136.0" r="6.1"/><circle cx="756.1" cy="157.3" r="6.1"/><circle cx="769.4" cy="182.9" r="6.1"/><circle cx="767.4" cy="213.8" r="6.1"/><circle cx="797.6" cy="250.9" r="6.1"/><circle cx="810.6" cy="295.4" r="6.1"/><circle cx="815.5" cy="348.9" r="6.1"/><circle cx="811.4" cy="413.1" r="6.1"/><circle cx="806.0" cy="489.8" r="6.1"/><circle cx="794.2" cy="581.2" r="6.1"/></g>
</g>
<rect x="528.5" y="21.5" width="379.0" height="589.0" fill="none" stroke="#000" stroke-width="1.3"/>
<path d="M530.5 610.5v5.4M648.5 610.5v5.4M766.5 610.5v5.4M884.5 610.5v5.4M528.5 21.5h-6.2M528.5 95.5h-6.2M528.5 168.5h-6.2M528.5 242.5h-6.2M528.5 315.5h-6.2M528.5 389.5h-6.2M528.5 463.5h-6.2M528.5 536.5h-6.2M528.5 610.5h-6.2" stroke="#000" stroke-width="1.25"/>
<text class="tk" x="529.8" y="639.6" text-anchor="middle">33.5</text>
<text class="tk" x="647.8" y="639.6" text-anchor="middle">34.0</text>
<text class="tk" x="765.8" y="639.6" text-anchor="middle">34.5</text>
<text class="tk" x="883.8" y="639.6" text-anchor="middle">35.0</text>
<path d="M992.5 610.5V21.5M1088.5 610.5V21.5M1184.5 610.5V21.5M1280.5 610.5V21.5M958.5 95.5H1337.5M958.5 168.5H1337.5M958.5 242.5H1337.5M958.5 315.5H1337.5M958.5 389.5H1337.5M958.5 463.5H1337.5M958.5 536.5H1337.5" stroke="#a6a6a6" stroke-width="0.85" stroke-dasharray="3.2 1.4" fill="none"/>
<g clip-path="url(#c2)">
<path d="M982.5 22.9L982.9 25.8L983.4 28.8L983.8 31.7L984.2 34.7L984.7 37.6L985.1 40.5L985.5 43.5L986.0 46.4L986.4 49.4L986.8 52.3L987.3 55.3L987.7 58.2L988.1 61.2L988.6 64.1L989.0 67.0L989.4 70.0L989.9 72.9L990.3 75.9L990.8 78.8L991.7 81.8L992.0 82.4L1034.5 86.6L1067.3 89.0L1074.0 91.6L1078.1 95.1L1083.5 98.2L1089.5 100.8L1093.7 103.8L1096.9 106.2L1098.8 109.3L1100.6 112.3L1102.8 115.1L1105.8 118.7L1109.3 122.1L1112.3 124.5L1114.9 126.4L1120.2 129.4L1127.6 132.8L1130.6 134.6L1137.4 138.7L1142.1 141.5L1144.9 144.2L1148.0 147.3L1151.1 150.2L1155.3 153.0L1159.7 156.0L1162.9 159.2L1166.6 162.8L1169.1 164.5L1174.2 167.8L1178.5 170.6L1182.1 173.3L1185.2 176.3L1188.4 179.0L1192.3 182.4L1195.9 185.2L1199.5 187.9L1202.9 190.4L1204.8 192.8L1207.4 196.2L1210.3 200.1L1212.6 203.0L1215.1 205.9L1217.7 208.9L1220.2 211.8L1222.3 214.7L1223.8 217.7L1225.3 220.6L1226.8 223.5L1228.3 226.4L1229.8 229.4L1231.2 232.3L1232.7 235.2L1234.2 238.2L1235.7 241.1L1236.9 244.0L1237.8 247.0L1238.7 249.9L1239.6 252.8L1240.5 255.7L1241.4 258.7L1242.3 261.6L1243.2 264.5L1244.1 267.5L1245.0 270.4L1245.8 273.3L1246.6 276.3L1247.4 279.2L1248.2 282.1L1249.0 285.0L1249.8 288.0L1250.6 290.9L1251.4 293.8L1252.0 296.8L1252.4 299.7L1252.7 302.6L1253.1 305.6L1253.4 308.5L1253.8 311.4L1254.1 314.3L1254.6 317.3L1255.3 320.2L1256.0 323.1L1256.7 326.1L1257.4 329.0L1258.1 331.9L1258.8 334.9L1259.5 337.8L1260.2 340.7L1260.8 343.6L1261.5 346.6L1262.2 349.5L1262.7 352.4L1263.1 355.4L1263.6 358.3L1264.0 361.2L1264.5 364.2L1264.9 367.1L1265.4 370.0L1265.8 372.9L1266.3 375.9L1266.8 378.8L1267.2 381.7L1267.7 384.7L1268.1 387.6L1268.6 390.5L1269.1 393.5L1269.6 396.4L1270.1 399.3L1270.6 402.2L1271.1 405.2L1271.6 408.1L1272.1 411.0L1272.6 414.0L1273.1 416.9L1273.6 419.8L1274.2 422.8L1274.8 425.7L1275.4 428.6L1276.0 431.5L1276.6 434.5L1277.2 437.4L1277.8 440.3L1278.4 443.3L1279.0 446.2L1279.6 449.1L1280.2 452.1L1280.8 455.0L1281.4 457.9L1282.0 460.8L1282.6 463.8L1283.2 466.7L1283.8 469.6L1284.3 472.6L1284.9 475.5L1285.5 478.4L1286.1 481.4L1286.7 484.3L1287.3 487.2L1287.9 490.1L1288.5 493.1L1289.1 496.0L1289.7 498.9L1290.3 501.9L1290.9 504.8L1291.5 507.7L1292.1 510.7L1292.7 513.6L1293.2 516.5L1293.8 519.4L1294.4 522.4L1295.0 525.3L1295.6 528.2L1296.2 531.2L1296.8 534.1L1297.4 537.0L1297.9 540.0L1298.5 542.9L1299.0 545.8L1299.6 548.7L1300.1 551.7L1300.6 554.6L1301.2 557.5L1301.7 560.5L1302.3 563.4L1302.8 566.3L1303.4 569.2L1303.9 572.2L1304.4 575.1L1305.0 578.0L1305.5 581.0L1306.1 583.9L1306.6 586.8L1307.2 589.8L1307.7 592.7L1308.2 595.6L1308.8 598.5L1309.3 601.5L1309.9 604.4L1310.4 607.3L1310.9 610.3L1311.5 613.2L1312.0 616.1L1312.5 619.1L1313.1 622.0L1313.6 624.9L1314.1 627.8L1314.6 630.8" fill="none" stroke="#0000ff" stroke-width="2.78" stroke-linejoin="round"/>
<g fill="#0000ff"><circle cx="982.5" cy="22.9" r="6.1"/><circle cx="982.9" cy="25.8" r="6.1"/><circle cx="983.4" cy="28.8" r="6.1"/><circle cx="983.8" cy="31.7" r="6.1"/><circle cx="984.2" cy="34.7" r="6.1"/><circle cx="984.7" cy="37.6" r="6.1"/><circle cx="985.1" cy="40.5" r="6.1"/><circle cx="985.5" cy="43.5" r="6.1"/><circle cx="986.0" cy="46.4" r="6.1"/><circle cx="986.4" cy="49.4" r="6.1"/><circle cx="986.8" cy="52.3" r="6.1"/><circle cx="987.3" cy="55.3" r="6.1"/><circle cx="987.7" cy="58.2" r="6.1"/><circle cx="988.1" cy="61.2" r="6.1"/><circle cx="988.6" cy="64.1" r="6.1"/><circle cx="989.0" cy="67.0" r="6.1"/><circle cx="989.4" cy="70.0" r="6.1"/><circle cx="989.9" cy="72.9" r="6.1"/><circle cx="990.3" cy="75.9" r="6.1"/><circle cx="990.8" cy="78.8" r="6.1"/><circle cx="991.7" cy="81.8" r="6.1"/><circle cx="992.0" cy="82.4" r="6.1"/><circle cx="1034.5" cy="86.6" r="6.1"/><circle cx="1067.3" cy="89.0" r="6.1"/><circle cx="1074.0" cy="91.6" r="6.1"/><circle cx="1078.1" cy="95.1" r="6.1"/><circle cx="1083.5" cy="98.2" r="6.1"/><circle cx="1089.5" cy="100.8" r="6.1"/><circle cx="1093.7" cy="103.8" r="6.1"/><circle cx="1096.9" cy="106.2" r="6.1"/><circle cx="1098.8" cy="109.3" r="6.1"/><circle cx="1100.6" cy="112.3" r="6.1"/><circle cx="1102.8" cy="115.1" r="6.1"/><circle cx="1105.8" cy="118.7" r="6.1"/><circle cx="1109.3" cy="122.1" r="6.1"/><circle cx="1112.3" cy="124.5" r="6.1"/><circle cx="1114.9" cy="126.4" r="6.1"/><circle cx="1120.2" cy="129.4" r="6.1"/><circle cx="1127.6" cy="132.8" r="6.1"/><circle cx="1130.6" cy="134.6" r="6.1"/><circle cx="1137.4" cy="138.7" r="6.1"/><circle cx="1142.1" cy="141.5" r="6.1"/><circle cx="1144.9" cy="144.2" r="6.1"/><circle cx="1148.0" cy="147.3" r="6.1"/><circle cx="1151.1" cy="150.2" r="6.1"/><circle cx="1155.3" cy="153.0" r="6.1"/><circle cx="1159.7" cy="156.0" r="6.1"/><circle cx="1162.9" cy="159.2" r="6.1"/><circle cx="1166.6" cy="162.8" r="6.1"/><circle cx="1169.1" cy="164.5" r="6.1"/><circle cx="1174.2" cy="167.8" r="6.1"/><circle cx="1178.5" cy="170.6" r="6.1"/><circle cx="1182.1" cy="173.3" r="6.1"/><circle cx="1185.2" cy="176.3" r="6.1"/><circle cx="1188.4" cy="179.0" r="6.1"/><circle cx="1192.3" cy="182.4" r="6.1"/><circle cx="1195.9" cy="185.2" r="6.1"/><circle cx="1199.5" cy="187.9" r="6.1"/><circle cx="1202.9" cy="190.4" r="6.1"/><circle cx="1204.8" cy="192.8" r="6.1"/><circle cx="1207.4" cy="196.2" r="6.1"/><circle cx="1210.3" cy="200.1" r="6.1"/><circle cx="1212.6" cy="203.0" r="6.1"/><circle cx="1215.1" cy="205.9" r="6.1"/><circle cx="1217.7" cy="208.9" r="6.1"/><circle cx="1220.2" cy="211.8" r="6.1"/><circle cx="1222.3" cy="214.7" r="6.1"/><circle cx="1223.8" cy="217.7" r="6.1"/><circle cx="1225.3" cy="220.6" r="6.1"/><circle cx="1226.8" cy="223.5" r="6.1"/><circle cx="1228.3" cy="226.4" r="6.1"/><circle cx="1229.8" cy="229.4" r="6.1"/><circle cx="1231.2" cy="232.3" r="6.1"/><circle cx="1232.7" cy="235.2" r="6.1"/><circle cx="1234.2" cy="238.2" r="6.1"/><circle cx="1235.7" cy="241.1" r="6.1"/><circle cx="1236.9" cy="244.0" r="6.1"/><circle cx="1237.8" cy="247.0" r="6.1"/><circle cx="1238.7" cy="249.9" r="6.1"/><circle cx="1239.6" cy="252.8" r="6.1"/><circle cx="1240.5" cy="255.7" r="6.1"/><circle cx="1241.4" cy="258.7" r="6.1"/><circle cx="1242.3" cy="261.6" r="6.1"/><circle cx="1243.2" cy="264.5" r="6.1"/><circle cx="1244.1" cy="267.5" r="6.1"/><circle cx="1245.0" cy="270.4" r="6.1"/><circle cx="1245.8" cy="273.3" r="6.1"/><circle cx="1246.6" cy="276.3" r="6.1"/><circle cx="1247.4" cy="279.2" r="6.1"/><circle cx="1248.2" cy="282.1" r="6.1"/><circle cx="1249.0" cy="285.0" r="6.1"/><circle cx="1249.8" cy="288.0" r="6.1"/><circle cx="1250.6" cy="290.9" r="6.1"/><circle cx="1251.4" cy="293.8" r="6.1"/><circle cx="1252.0" cy="296.8" r="6.1"/><circle cx="1252.4" cy="299.7" r="6.1"/><circle cx="1252.7" cy="302.6" r="6.1"/><circle cx="1253.1" cy="305.6" r="6.1"/><circle cx="1253.4" cy="308.5" r="6.1"/><circle cx="1253.8" cy="311.4" r="6.1"/><circle cx="1254.1" cy="314.3" r="6.1"/><circle cx="1254.6" cy="317.3" r="6.1"/><circle cx="1255.3" cy="320.2" r="6.1"/><circle cx="1256.0" cy="323.1" r="6.1"/><circle cx="1256.7" cy="326.1" r="6.1"/><circle cx="1257.4" cy="329.0" r="6.1"/><circle cx="1258.1" cy="331.9" r="6.1"/><circle cx="1258.8" cy="334.9" r="6.1"/><circle cx="1259.5" cy="337.8" r="6.1"/><circle cx="1260.2" cy="340.7" r="6.1"/><circle cx="1260.8" cy="343.6" r="6.1"/><circle cx="1261.5" cy="346.6" r="6.1"/><circle cx="1262.2" cy="349.5" r="6.1"/><circle cx="1262.7" cy="352.4" r="6.1"/><circle cx="1263.1" cy="355.4" r="6.1"/><circle cx="1263.6" cy="358.3" r="6.1"/><circle cx="1264.0" cy="361.2" r="6.1"/><circle cx="1264.5" cy="364.2" r="6.1"/><circle cx="1264.9" cy="367.1" r="6.1"/><circle cx="1265.4" cy="370.0" r="6.1"/><circle cx="1265.8" cy="372.9" r="6.1"/><circle cx="1266.3" cy="375.9" r="6.1"/><circle cx="1266.8" cy="378.8" r="6.1"/><circle cx="1267.2" cy="381.7" r="6.1"/><circle cx="1267.7" cy="384.7" r="6.1"/><circle cx="1268.1" cy="387.6" r="6.1"/><circle cx="1268.6" cy="390.5" r="6.1"/><circle cx="1269.1" cy="393.5" r="6.1"/><circle cx="1269.6" cy="396.4" r="6.1"/><circle cx="1270.1" cy="399.3" r="6.1"/><circle cx="1270.6" cy="402.2" r="6.1"/><circle cx="1271.1" cy="405.2" r="6.1"/><circle cx="1271.6" cy="408.1" r="6.1"/><circle cx="1272.1" cy="411.0" r="6.1"/><circle cx="1272.6" cy="414.0" r="6.1"/><circle cx="1273.1" cy="416.9" r="6.1"/><circle cx="1273.6" cy="419.8" r="6.1"/><circle cx="1274.2" cy="422.8" r="6.1"/><circle cx="1274.8" cy="425.7" r="6.1"/><circle cx="1275.4" cy="428.6" r="6.1"/><circle cx="1276.0" cy="431.5" r="6.1"/><circle cx="1276.6" cy="434.5" r="6.1"/><circle cx="1277.2" cy="437.4" r="6.1"/><circle cx="1277.8" cy="440.3" r="6.1"/><circle cx="1278.4" cy="443.3" r="6.1"/><circle cx="1279.0" cy="446.2" r="6.1"/><circle cx="1279.6" cy="449.1" r="6.1"/><circle cx="1280.2" cy="452.1" r="6.1"/><circle cx="1280.8" cy="455.0" r="6.1"/><circle cx="1281.4" cy="457.9" r="6.1"/><circle cx="1282.0" cy="460.8" r="6.1"/><circle cx="1282.6" cy="463.8" r="6.1"/><circle cx="1283.2" cy="466.7" r="6.1"/><circle cx="1283.8" cy="469.6" r="6.1"/><circle cx="1284.3" cy="472.6" r="6.1"/><circle cx="1284.9" cy="475.5" r="6.1"/><circle cx="1285.5" cy="478.4" r="6.1"/><circle cx="1286.1" cy="481.4" r="6.1"/><circle cx="1286.7" cy="484.3" r="6.1"/><circle cx="1287.3" cy="487.2" r="6.1"/><circle cx="1287.9" cy="490.1" r="6.1"/><circle cx="1288.5" cy="493.1" r="6.1"/><circle cx="1289.1" cy="496.0" r="6.1"/><circle cx="1289.7" cy="498.9" r="6.1"/><circle cx="1290.3" cy="501.9" r="6.1"/><circle cx="1290.9" cy="504.8" r="6.1"/><circle cx="1291.5" cy="507.7" r="6.1"/><circle cx="1292.1" cy="510.7" r="6.1"/><circle cx="1292.7" cy="513.6" r="6.1"/><circle cx="1293.2" cy="516.5" r="6.1"/><circle cx="1293.8" cy="519.4" r="6.1"/><circle cx="1294.4" cy="522.4" r="6.1"/><circle cx="1295.0" cy="525.3" r="6.1"/><circle cx="1295.6" cy="528.2" r="6.1"/><circle cx="1296.2" cy="531.2" r="6.1"/><circle cx="1296.8" cy="534.1" r="6.1"/><circle cx="1297.4" cy="537.0" r="6.1"/><circle cx="1297.9" cy="540.0" r="6.1"/><circle cx="1298.5" cy="542.9" r="6.1"/><circle cx="1299.0" cy="545.8" r="6.1"/><circle cx="1299.6" cy="548.7" r="6.1"/><circle cx="1300.1" cy="551.7" r="6.1"/><circle cx="1300.6" cy="554.6" r="6.1"/><circle cx="1301.2" cy="557.5" r="6.1"/><circle cx="1301.7" cy="560.5" r="6.1"/><circle cx="1302.3" cy="563.4" r="6.1"/><circle cx="1302.8" cy="566.3" r="6.1"/><circle cx="1303.4" cy="569.2" r="6.1"/><circle cx="1303.9" cy="572.2" r="6.1"/><circle cx="1304.4" cy="575.1" r="6.1"/><circle cx="1305.0" cy="578.0" r="6.1"/><circle cx="1305.5" cy="581.0" r="6.1"/><circle cx="1306.1" cy="583.9" r="6.1"/><circle cx="1306.6" cy="586.8" r="6.1"/><circle cx="1307.2" cy="589.8" r="6.1"/><circle cx="1307.7" cy="592.7" r="6.1"/><circle cx="1308.2" cy="595.6" r="6.1"/><circle cx="1308.8" cy="598.5" r="6.1"/><circle cx="1309.3" cy="601.5" r="6.1"/><circle cx="1309.9" cy="604.4" r="6.1"/><circle cx="1310.4" cy="607.3" r="6.1"/><circle cx="1310.9" cy="610.3" r="6.1"/><circle cx="1311.5" cy="613.2" r="6.1"/><circle cx="1312.0" cy="616.1" r="6.1"/></g>
<path d="M1003.8 21.4L1004.2 24.3L1004.5 27.3L1004.9 30.2L1005.2 33.2L1005.6 36.1L1006.0 39.1L1006.5 43.5L1007.4 50.8L1021.5 58.2L1054.3 65.6L1075.4 72.9L1088.6 80.3L1101.5 87.7L1114.7 95.0L1141.7 109.7L1162.4 124.5L1178.5 139.2L1192.7 153.9L1203.7 168.6L1222.7 205.4L1240.6 242.2L1251.8 315.8L1268.4 389.5L1283.8 463.1L1298.0 536.7L1312.2 610.3" fill="none" stroke="#008000" stroke-width="2.78" stroke-linejoin="round"/>
<g fill="#008000"><circle cx="1003.8" cy="21.4" r="6.1"/><circle cx="1004.2" cy="24.3" r="6.1"/><circle cx="1004.5" cy="27.3" r="6.1"/><circle cx="1004.9" cy="30.2" r="6.1"/><circle cx="1005.2" cy="33.2" r="6.1"/><circle cx="1005.6" cy="36.1" r="6.1"/><circle cx="1006.0" cy="39.1" r="6.1"/><circle cx="1006.5" cy="43.5" r="6.1"/><circle cx="1007.4" cy="50.8" r="6.1"/><circle cx="1021.5" cy="58.2" r="6.1"/><circle cx="1054.3" cy="65.6" r="6.1"/><circle cx="1075.4" cy="72.9" r="6.1"/><circle cx="1088.6" cy="80.3" r="6.1"/><circle cx="1101.5" cy="87.7" r="6.1"/><circle cx="1114.7" cy="95.0" r="6.1"/><circle cx="1141.7" cy="109.7" r="6.1"/><circle cx="1162.4" cy="124.5" r="6.1"/><circle cx="1178.5" cy="139.2" r="6.1"/><circle cx="1192.7" cy="153.9" r="6.1"/><circle cx="1203.7" cy="168.6" r="6.1"/><circle cx="1222.7" cy="205.4" r="6.1"/><circle cx="1240.6" cy="242.2" r="6.1"/><circle cx="1251.8" cy="315.8" r="6.1"/><circle cx="1268.4" cy="389.5" r="6.1"/><circle cx="1283.8" cy="463.1" r="6.1"/><circle cx="1298.0" cy="536.7" r="6.1"/><circle cx="1312.2" cy="610.3" r="6.1"/></g>
<path d="M1004.7 21.4L1005.1 24.3L1005.5 27.3L1005.9 30.2L1006.2 33.2L1006.6 36.1L1007.0 39.1L1007.6 43.5L1008.6 50.8L1009.5 58.2L1010.5 65.6L1018.8 72.9L1031.7 80.3L1055.5 87.7L1077.6 95.0L1104.3 109.7L1127.2 124.5L1149.2 139.2L1169.3 153.9L1186.1 168.6L1215.3 205.4L1236.4 242.2L1253.0 315.8L1269.0 389.5L1284.1 463.1L1298.3 536.7L1312.5 610.3" fill="none" stroke="#ff0000" stroke-width="2.78" stroke-linejoin="round"/>
<g fill="#ff0000"><circle cx="1004.7" cy="21.4" r="6.1"/><circle cx="1005.1" cy="24.3" r="6.1"/><circle cx="1005.5" cy="27.3" r="6.1"/><circle cx="1005.9" cy="30.2" r="6.1"/><circle cx="1006.2" cy="33.2" r="6.1"/><circle cx="1006.6" cy="36.1" r="6.1"/><circle cx="1007.0" cy="39.1" r="6.1"/><circle cx="1007.6" cy="43.5" r="6.1"/><circle cx="1008.6" cy="50.8" r="6.1"/><circle cx="1009.5" cy="58.2" r="6.1"/><circle cx="1010.5" cy="65.6" r="6.1"/><circle cx="1018.8" cy="72.9" r="6.1"/><circle cx="1031.7" cy="80.3" r="6.1"/><circle cx="1055.5" cy="87.7" r="6.1"/><circle cx="1077.6" cy="95.0" r="6.1"/><circle cx="1104.3" cy="109.7" r="6.1"/><circle cx="1127.2" cy="124.5" r="6.1"/><circle cx="1149.2" cy="139.2" r="6.1"/><circle cx="1169.3" cy="153.9" r="6.1"/><circle cx="1186.1" cy="168.6" r="6.1"/><circle cx="1215.3" cy="205.4" r="6.1"/><circle cx="1236.4" cy="242.2" r="6.1"/><circle cx="1253.0" cy="315.8" r="6.1"/><circle cx="1269.0" cy="389.5" r="6.1"/><circle cx="1284.1" cy="463.1" r="6.1"/><circle cx="1298.3" cy="536.7" r="6.1"/><circle cx="1312.5" cy="610.3" r="6.1"/></g>
<path d="M991.6 22.1L991.8 23.7L992.1 25.3L992.4 27.0L992.7 28.9L993.0 30.9L993.3 33.1L993.7 35.5L994.1 38.2L994.6 41.2L995.1 44.7L995.8 48.6L996.5 53.2L997.3 58.5L998.3 64.8L1001.2 72.1L1023.6 80.8L1067.5 91.1L1103.9 103.5L1134.6 118.3L1158.3 136.0L1180.5 157.3L1201.4 182.9L1220.6 213.8L1239.1 250.9L1252.6 295.4L1263.3 348.9L1275.3 413.1L1290.2 489.8L1307.4 581.2L1327.0 689.7" fill="none" stroke="#ff00ff" stroke-width="2.78" stroke-linejoin="round"/>
<g fill="#ff00ff"><circle cx="991.6" cy="22.1" r="6.1"/><circle cx="991.8" cy="23.7" r="6.1"/><circle cx="992.1" cy="25.3" r="6.1"/><circle cx="992.4" cy="27.0" r="6.1"/><circle cx="992.7" cy="28.9" r="6.1"/><circle cx="993.0" cy="30.9" r="6.1"/><circle cx="993.3" cy="33.1" r="6.1"/><circle cx="993.7" cy="35.5" r="6.1"/><circle cx="994.1" cy="38.2" r="6.1"/><circle cx="994.6" cy="41.2" r="6.1"/><circle cx="995.1" cy="44.7" r="6.1"/><circle cx="995.8" cy="48.6" r="6.1"/><circle cx="996.5" cy="53.2" r="6.1"/><circle cx="997.3" cy="58.5" r="6.1"/><circle cx="998.3" cy="64.8" r="6.1"/><circle cx="1001.2" cy="72.1" r="6.1"/><circle cx="1023.6" cy="80.8" r="6.1"/><circle cx="1067.5" cy="91.1" r="6.1"/><circle cx="1103.9" cy="103.5" r="6.1"/><circle cx="1134.6" cy="118.3" r="6.1"/><circle cx="1158.3" cy="136.0" r="6.1"/><circle cx="1180.5" cy="157.3" r="6.1"/><circle cx="1201.4" cy="182.9" r="6.1"/><circle cx="1220.6" cy="213.8" r="6.1"/><circle cx="1239.1" cy="250.9" r="6.1"/><circle cx="1252.6" cy="295.4" r="6.1"/><circle cx="1263.3" cy="348.9" r="6.1"/><circle cx="1275.3" cy="413.1" r="6.1"/><circle cx="1290.2" cy="489.8" r="6.1"/><circle cx="1307.4" cy="581.2" r="6.1"/></g>
</g>
<rect x="958.5" y="21.5" width="379.0" height="589.0" fill="none" stroke="#000" stroke-width="1.3"/>
<path d="M992.5 610.5v5.4M1088.5 610.5v5.4M1184.5 610.5v5.4M1280.5 610.5v5.4M958.5 21.5h-6.2M958.5 95.5h-6.2M958.5 168.5h-6.2M958.5 242.5h-6.2M958.5 315.5h-6.2M958.5 389.5h-6.2M958.5 463.5h-6.2M958.5 536.5h-6.2M958.5 610.5h-6.2" stroke="#000" stroke-width="1.25"/>
<text class="tk" x="990.8" y="639.6" text-anchor="middle">1022</text>
<text class="tk" x="1087.8" y="639.6" text-anchor="middle">1024</text>
<text class="tk" x="1183.8" y="639.6" text-anchor="middle">1026</text>
<text class="tk" x="1279.8" y="639.6" text-anchor="middle">1028</text>
<text class="tk" x="87.1" y="30.3" text-anchor="end">0</text>
<text class="tk" x="86.8" y="104.3" text-anchor="end">50</text>
<text class="tk" x="86.4" y="178.3" text-anchor="end">100</text>
<text class="tk" x="86.4" y="251.3" text-anchor="end">150</text>
<text class="tk" x="85.9" y="324.8" text-anchor="end">200</text>
<text class="tk" x="86.4" y="398.3" text-anchor="end">250</text>
<text class="tk" x="86.0" y="472.3" text-anchor="end">300</text>
<text class="tk" x="86.0" y="545.3" text-anchor="end">350</text>
<text class="tk" x="86.0" y="619.3" text-anchor="end">400</text>
<text class="ax" x="287.4" y="674.2" text-anchor="middle">Temperature (&#730;C)</text>
<text class="ax" x="717.3" y="670.6" text-anchor="middle">Salinity (psu)</text>
<text class="ax" x="1146.7" y="670.9" text-anchor="middle">Density</text>
<text class="ax" transform="translate(30.4 315.9) rotate(-90)" text-anchor="middle">Depth (m)</text>
<text x="365.6" y="695.5" font-size="17.36px" font-style="italic" xml:space="preserve">Ocean Heat Content (kJ/cm^2) - Argo: 16.1823,  RTOFS: 3.0554,  ESPC: 5.8918,  CMEMS: 8.6611,  </text>
<text class="tt" x="1458.3" y="40.9">Argo #5906756</text>
<text class="tt" x="1458.3" y="70.9">ARGO: 2025-11-25T07:28Z</text>
<text class="tt" x="1458.3" y="100.9">ESPC : 2025-11-25T06:00Z</text>
<text class="tt" x="1458.3" y="130.9">RTOFS: 2025-11-25T06:00Z</text>
<text class="tt" x="1458.3" y="160.9">CMEMS: 2025-11-25T06:00Z</text>
<rect x="1483.5" y="199.5" width="377.0" height="233.0" fill="#97b6e1"/>
<path d="M1627.6 294.2L1631.0 296.1L1636.2 298.3L1637.8 300.0L1639.1 302.7L1641.3 304.5L1638.8 307.1L1634.9 308.5L1632.0 310.3L1630.0 312.9L1627.4 311.0L1626.8 305.5L1625.0 301.6L1627.1 298.6L1628.0 297.2L1627.1 295.2Z" fill="#d2b48c" stroke="#000" stroke-width="2.1" stroke-linejoin="round"/>
<path d="M1616.7 285.2L1618.0 283.7L1619.6 285.5L1622.5 284.9L1625.9 287.4L1623.2 289.2L1620.3 289.8L1619.8 287.2L1617.7 286.9L1616.8 285.8Z" fill="#d2b48c" stroke="#000" stroke-width="2.1" stroke-linejoin="round"/>
<path d="M1616.7 290.6L1618.0 289.6L1618.8 290.8L1617.7 291.0Z" fill="#d2b48c" stroke="#000" stroke-width="2.1" stroke-linejoin="round"/>
<path d="M1612.0 285.8L1613.7 285.1L1615.3 286.6L1614.1 287.7L1612.5 287.2Z" fill="#d2b48c" stroke="#000" stroke-width="2.1" stroke-linejoin="round"/>
<path d="M1608.8 282.7L1609.5 281.0L1613.2 281.2L1616.6 281.9L1614.5 283.4L1611.5 282.7Z" fill="#d2b48c" stroke="#000" stroke-width="2.1" stroke-linejoin="round"/>
<path d="M1596.2 276.0L1598.5 275.8L1600.1 274.2L1601.9 277.2L1604.3 279.8L1602.4 280.5L1598.5 279.9L1596.8 277.4Z" fill="#d2b48c" stroke="#000" stroke-width="2.1" stroke-linejoin="round"/>
<path d="M1576.7 269.2L1579.0 267.0L1581.6 267.0L1583.0 268.8L1582.2 270.9L1581.0 272.0L1578.3 271.3L1576.7 270.5Z" fill="#d2b48c" stroke="#000" stroke-width="2.1" stroke-linejoin="round"/>
<path d="M1570.5 272.4L1571.2 273.0L1572.9 271.6L1573.1 270.2L1572.5 270.0Z" fill="#d2b48c" stroke="#000" stroke-width="2.1" stroke-linejoin="round"/>
<ellipse cx="1492.4" cy="245.0" rx="1.9" ry="0.9" transform="rotate(58 1492.4 245.0)" fill="#2a2f3a" opacity="0.85"/>
<ellipse cx="1512.3" cy="248.0" rx="1.2" ry="0.7" fill="#2a2f3a" opacity="0.7"/>
<circle cx="1548.5" cy="255.3" r="1.1" fill="none" stroke="#3a4250" stroke-width="0.6" opacity="0.8"/>
<ellipse cx="1566.5" cy="274.8" rx="1.5" ry="0.7" fill="#6b7f9e" opacity="0.8"/>
<circle cx="1786.7" cy="403.6" r="6.1" fill="#0000ff"/>
<rect x="1483.5" y="199.5" width="377.0" height="233.0" fill="none" stroke="#000" stroke-width="1.3"/>
<path d="M1509.50 199.5v-9M1509.50 432.5v9M1548.50 199.5v-9M1548.50 432.5v9M1587.50 199.5v-9M1587.50 432.5v9M1626.50 199.5v-9M1626.50 432.5v9M1665.50 199.5v-9M1665.50 432.5v9M1704.50 199.5v-9M1704.50 432.5v9M1743.50 199.5v-9M1743.50 432.5v9M1782.50 199.5v-9M1782.50 432.5v9M1821.50 199.5v-9M1821.50 432.5v9M1860.50 199.5v-9M1860.50 432.5v9M1483.5 406.30h-9M1860.5 406.30h9M1483.5 366.34h-9M1860.5 366.34h9M1483.5 325.82h-9M1860.5 325.82h9M1483.5 284.60h-9M1860.5 284.60h9M1483.5 242.55h-9M1860.5 242.55h9M1483.5 199.50h-9M1860.5 199.50h9" stroke="#000" stroke-width="3.0" fill="none"/>
<path d="M1483.50 199.5v-2.5M1483.50 432.5v2.5M1496.50 199.5v-2.5M1496.50 432.5v2.5M1522.50 199.5v-2.5M1522.50 432.5v2.5M1535.50 199.5v-2.5M1535.50 432.5v2.5M1561.50 199.5v-2.5M1561.50 432.5v2.5M1574.50 199.5v-2.5M1574.50 432.5v2.5M1600.50 199.5v-2.5M1600.50 432.5v2.5M1613.50 199.5v-2.5M1613.50 432.5v2.5M1639.50 199.5v-2.5M1639.50 432.5v2.5M1652.50 199.5v-2.5M1652.50 432.5v2.5M1678.50 199.5v-2.5M1678.50 432.5v2.5M1691.50 199.5v-2.5M1691.50 432.5v2.5M1717.50 199.5v-2.5M1717.50 432.5v2.5M1730.50 199.5v-2.5M1730.50 432.5v2.5M1756.50 199.5v-2.5M1756.50 432.5v2.5M1769.50 199.5v-2.5M1769.50 432.5v2.5M1795.50 199.5v-2.5M1795.50 432.5v2.5M1808.50 199.5v-2.5M1808.50 432.5v2.5M1834.50 199.5v-2.5M1834.50 432.5v2.5M1847.50 199.5v-2.5M1847.50 432.5v2.5M1483.5 432.28h-2.5M1860.5 432.28h2.5M1483.5 419.11h-2.5M1860.5 419.11h2.5M1483.5 392.64h-2.5M1860.5 392.64h2.5M1483.5 379.32h-2.5M1860.5 379.32h2.5M1483.5 352.50h-2.5M1860.5 352.50h2.5M1483.5 339.00h-2.5M1860.5 339.00h2.5M1483.5 311.77h-2.5M1860.5 311.77h2.5M1483.5 298.03h-2.5M1860.5 298.03h2.5M1483.5 270.29h-2.5M1860.5 270.29h2.5M1483.5 256.27h-2.5M1860.5 256.27h2.5M1483.5 227.92h-2.5M1860.5 227.92h2.5M1483.5 213.57h-2.5M1860.5 213.57h2.5" stroke="#000" stroke-width="1.7" fill="none"/>
<text class="mp" x="1468.3" y="204.6" text-anchor="end">27°N</text>
<text class="mp" x="1468.3" y="247.6" text-anchor="end">24°N</text>
<text class="mp" x="1468.3" y="289.7" text-anchor="end">21°N</text>
<text class="mp" x="1468.3" y="330.9" text-anchor="end">18°N</text>
<text class="mp" x="1468.3" y="371.4" text-anchor="end">15°N</text>
<text class="mp" x="1468.3" y="411.4" text-anchor="end">12°N</text>
<text class="mp" x="1508.8" y="457.6" text-anchor="middle">165°W</text>
<text class="mp" x="1547.8" y="457.6" text-anchor="middle">162°W</text>
<text class="mp" x="1586.8" y="457.6" text-anchor="middle">159°W</text>
<text class="mp" x="1625.8" y="457.6" text-anchor="middle">156°W</text>
<text class="mp" x="1664.8" y="457.6" text-anchor="middle">153°W</text>
<text class="mp" x="1703.8" y="457.6" text-anchor="middle">150°W</text>
<text class="mp" x="1742.8" y="457.6" text-anchor="middle">147°W</text>
<text class="mp" x="1781.8" y="457.6" text-anchor="middle">144°W</text>
<text class="mp" x="1820.8" y="457.6" text-anchor="middle">141°W</text>
<text class="mp" x="1859.8" y="457.6" text-anchor="middle">138°W</text>
<rect x="1499" y="488.2" width="344" height="126.2" rx="3.3" ry="3.3" fill="#fff" fill-opacity="0.8" stroke="#cccccc" stroke-width="1.39"/>
<path d="M1507.0 505.4h43.8" stroke="#0000ff" stroke-width="2.78" fill="none"/>
<circle cx="1528.5" cy="505.4" r="6.1" fill="#0000ff"/>
<text class="lg" x="1566.0" y="512.7">5906756 [-143.68, 12.17]</text>
<path d="M1507.0 535.6h43.8" stroke="#008000" stroke-width="2.78" fill="none"/>
<circle cx="1528.5" cy="535.6" r="6.1" fill="#008000"/>
<text class="lg" x="1566.0" y="542.9">ESPC [-143.68, 12.16]</text>
<path d="M1507.0 565.8h43.8" stroke="#ff0000" stroke-width="2.78" fill="none"/>
<circle cx="1528.5" cy="565.8" r="6.1" fill="#ff0000"/>
<text class="lg" x="1566.0" y="573.1">RTOFS [-143.68, 12.15]</text>
<path d="M1507.0 596.0h43.8" stroke="#ff00ff" stroke-width="2.78" fill="none"/>
<circle cx="1528.5" cy="596.0" r="6.1" fill="#ff00ff"/>
<text class="lg" x="1566.0" y="603.3">CMEMS [-143.67, 12.17]</text>
</svg></body></html>
